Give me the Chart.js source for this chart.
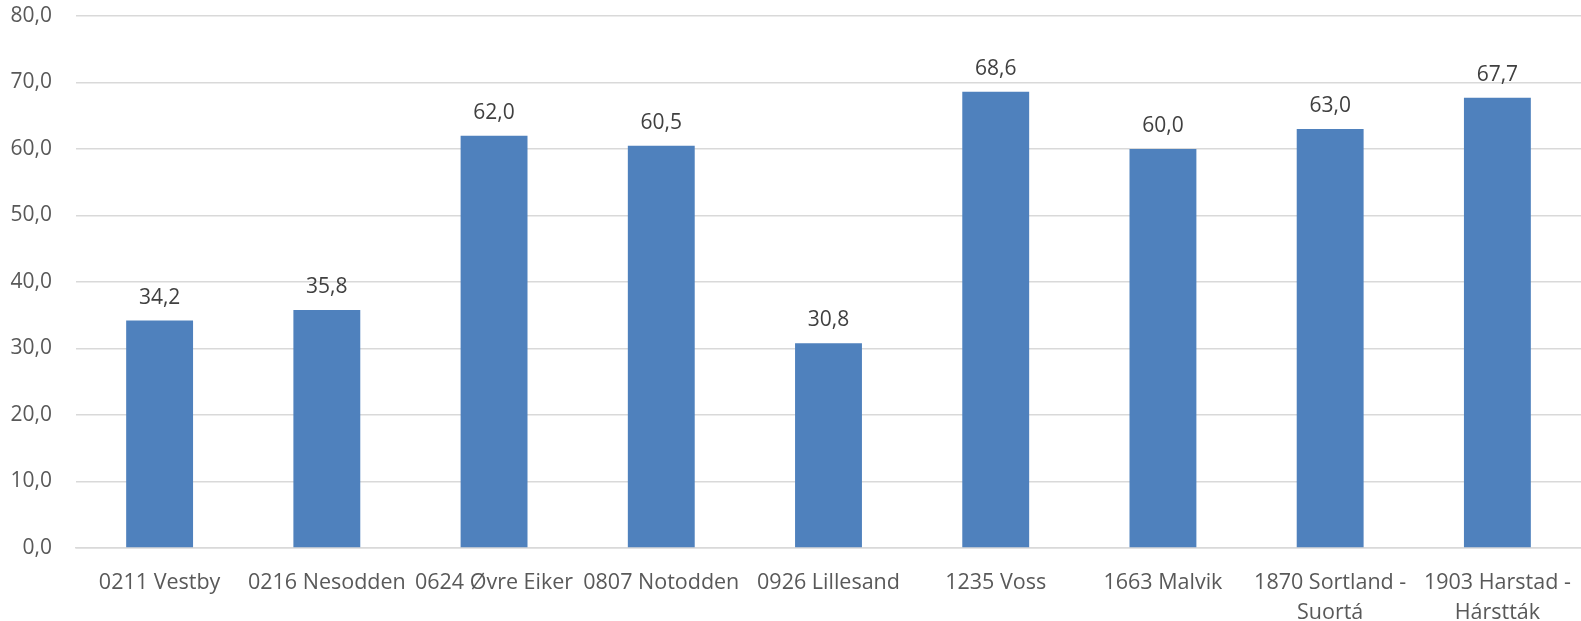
<!DOCTYPE html>
<html>
<head>
<meta charset="utf-8">
<script src="https://cdn.jsdelivr.net/npm/chart.js@4"></script>
<style>
  html, body { margin: 0; padding: 0; background: #fff; overflow: hidden; }
  canvas { display: block; }
</style>
</head>
<body>
<canvas id="chart" width="1581" height="621"></canvas>
<script>
const categories = [
    "0211 Vestby",
    "0216 Nesodden",
    "0624 Øvre Eiker",
    "0807 Notodden",
    "0926 Lillesand",
    "1235 Voss",
    "1663 Malvik",
    ["1870 Sortland -", "Suortá"],
    ["1903 Harstad -", "Hárstták"]
];
const values = [34.2, 35.8, 62.0, 60.5, 30.8, 68.6, 60.0, 63.0, 67.7];
const yMin = 0;
const yMax = 80;
const yStep = 10;

const fmt = v => v.toFixed(1).replace(".", ",");

// value labels over each bar
const barLabels = {
    id: "barLabels",
    afterDatasetsDraw(chart) {
        const ctx = chart.ctx;
        const meta = chart.getDatasetMeta(0);
        ctx.save();
        ctx.font = "21px 'Open Sans'";
        ctx.fillStyle = "#404040";
        ctx.textAlign = "center";
        ctx.textBaseline = "alphabetic";
        meta.data.forEach((bar, i) => {
            ctx.fillText(fmt(values[i]), bar.x, bar.y - 17);
        });
        ctx.restore();
    }
};

new Chart(document.getElementById("chart"), {
    type: "bar",
    data: {
        labels: categories,
        datasets: [{
            data: values,
            backgroundColor: "#4f81bd",
            barPercentage: 0.4,
            categoryPercentage: 1
        }]
    },
    options: {
        responsive: false,
        devicePixelRatio: 1,
        animation: false,
        layout: { padding: { top: 16, right: 0, left: 0, bottom: 0 } },
        plugins: {
            legend: { display: false },
            tooltip: { enabled: false }
        },
        scales: {
            x: {
                grid: { display: false, drawTicks: false },
                border: { display: true, color: "#d9d9d9", width: 1.5 },
                ticks: {
                    color: "#595959",
                    font: { family: "'Open Sans'", size: 21.5, lineHeight: 1.4 },
                    padding: 20,
                    maxRotation: 0,
                    autoSkip: false
                },
                afterFit(scale) {
                    scale.height = 73;
                    scale.paddingLeft = 0;
                    scale.paddingRight = 0;
                }
            },
            y: {
                min: yMin,
                max: yMax,
                grid: { color: "#d9d9d9", lineWidth: 1.5, drawTicks: false },
                border: { display: false },
                ticks: {
                    stepSize: yStep,
                    color: "#595959",
                    font: { family: "'Open Sans'", size: 21 },
                    padding: 24,
                    callback: v => fmt(v)
                },
                afterFit(scale) {
                    scale.width = 76;
                    scale.paddingTop = 0;
                    scale.paddingBottom = 0;
                }
            }
        }
    },
    plugins: [barLabels]
});
</script>
</body>
</html>
